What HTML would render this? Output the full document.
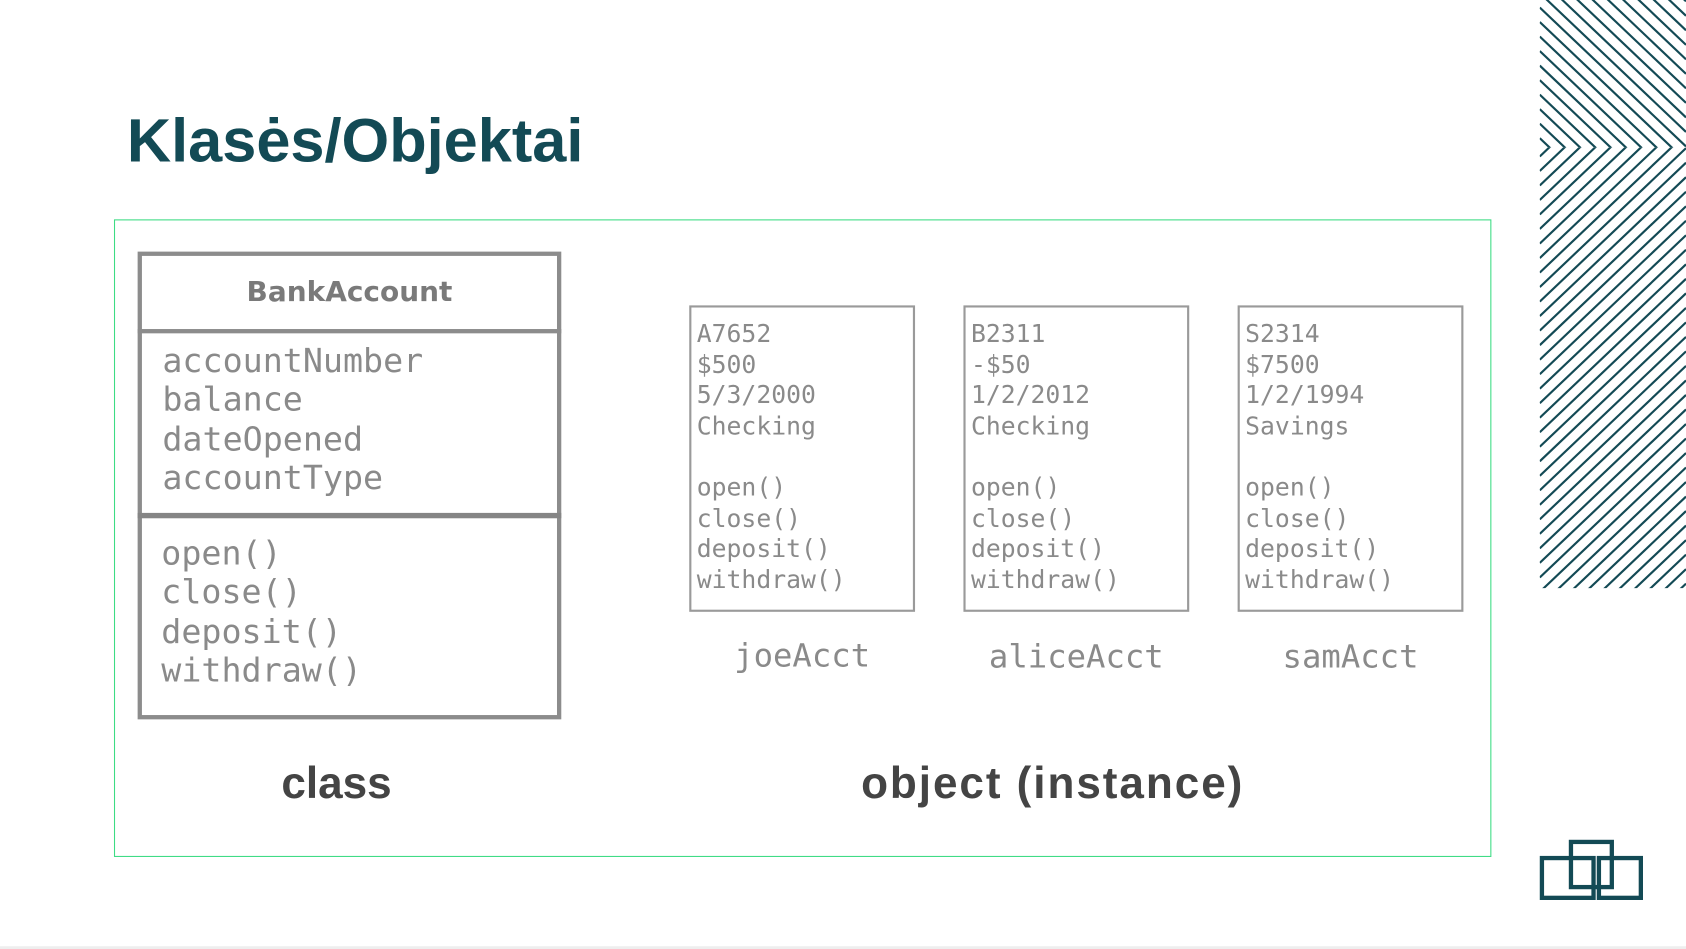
<!DOCTYPE html>
<html><head><meta charset="utf-8">
<style>
html,body{margin:0;padding:0;background:#fff;overflow:hidden}
#w{position:absolute;left:0;top:0;width:1568px;height:883px;transform:scale(1.07526);transform-origin:0 0;}
.a{position:absolute;white-space:pre}
.mono{font-family:"DejaVu Sans Mono","Liberation Mono",monospace;color:#8a8a8a}
.sans{font-family:"DejaVu Sans","Liberation Sans",sans-serif;font-weight:bold;color:#555}
.lab{font-family:"Liberation Sans",sans-serif;font-weight:bold;color:#444}
.box{position:absolute;border:2px solid #9a9a9a;box-sizing:border-box;background:#fff}
</style></head><body>
<div id="w">
<div class="a" style="left:118px;top:96px;font:bold 57px 'Liberation Sans',sans-serif;color:#134a55;line-height:70px">Klasės/Objektai</div>

<div style="position:absolute;left:106px;top:204px;width:1281px;height:593px;border:1px solid #3ddc84;box-sizing:border-box"></div>

<div class="box" style="left:128px;top:234px;width:394px;height:435px;border:4px solid #8c8c8c"></div>
<div style="position:absolute;left:128px;top:306px;width:394px;height:4px;background:#8c8c8c"></div>
<div style="position:absolute;left:128px;top:477px;width:394px;height:5px;background:#858585"></div>
<div class="a sans" style="left:128px;width:394px;text-align:center;top:255px;font-size:26px;line-height:34px;color:#7a7a7a">BankAccount</div>
<div class="a mono" style="left:151px;top:318px;font-size:31px;line-height:36.3px">accountNumber
balance
dateOpened
accountType</div>
<div class="a mono" style="left:150px;top:497px;font-size:31px;line-height:36.3px">open()
close()
deposit()
withdraw()</div>

<div class="box" style="left:641px;top:284px;width:210px;height:285px"></div>
<div class="box" style="left:896px;top:284px;width:210px;height:285px"></div>
<div class="box" style="left:1151px;top:284px;width:210px;height:285px"></div>
<div class="a mono" style="left:648px;top:297px;font-size:23px;line-height:28.6px">A7652
$500
5/3/2000
Checking

open()
close()
deposit()
withdraw()</div>
<div class="a mono" style="left:903px;top:297px;font-size:23px;line-height:28.6px">B2311
-$50
1/2/2012
Checking

open()
close()
deposit()
withdraw()</div>
<div class="a mono" style="left:1158px;top:297px;font-size:23px;line-height:28.6px">S2314
$7500
1/2/1994
Savings

open()
close()
deposit()
withdraw()</div>
<div class="a mono" style="left:646px;width:200px;text-align:center;top:591px;font-size:30px;line-height:40px">joeAcct</div>
<div class="a mono" style="left:901px;width:200px;text-align:center;top:592px;font-size:30px;line-height:40px">aliceAcct</div>
<div class="a mono" style="left:1156px;width:200px;text-align:center;top:592px;font-size:30px;line-height:40px">samAcct</div>

<div class="a lab" style="left:213px;width:200px;text-align:center;top:701px;font-size:41px;line-height:54px">class</div>
<div class="a lab" style="left:729px;width:500px;text-align:center;top:701px;font-size:41px;line-height:54px;letter-spacing:1.8px">object (instance)</div>

<svg style="position:absolute;left:0;top:0" width="1568" height="883" id="pat"></svg>

<svg style="position:absolute;left:0;top:0" width="1568" height="883">
<g fill="none" stroke="#134a55" stroke-width="4">
<rect x="1434" y="798" width="48" height="37"/>
<rect x="1461" y="783" width="38" height="42"/>
<rect x="1487" y="798" width="39" height="37"/>
</g>
</svg>
<div style="position:absolute;left:0;top:880px;width:1568px;height:3px;background:#eee"></div>
</div>
<script>
(function(){
var s=document.getElementById('pat');
var h='<defs><clipPath id="u2"><rect x="1432" y="0" width="136" height="137"/></clipPath><clipPath id="l2"><rect x="1432" y="137" width="136" height="410"/></clipPath></defs>';
var g1='<g clip-path="url(#u2)" stroke="#134a55" stroke-width="2">',g2='<g clip-path="url(#l2)" stroke="#134a55" stroke-width="2">';
var k=0.95;
for(var c=-300;c<700;c+=13.5){
 g2+='<line x1="1432" y1="'+c+'" x2="1568" y2="'+(c-k*136)+'"/>';
 var cm=274-c;
 g1+='<line x1="1432" y1="'+cm+'" x2="1568" y2="'+(cm+k*136)+'"/>';
}
s.innerHTML=h+g1+'</g>'+g2+'</g>';
})();
</script>
</body></html>
